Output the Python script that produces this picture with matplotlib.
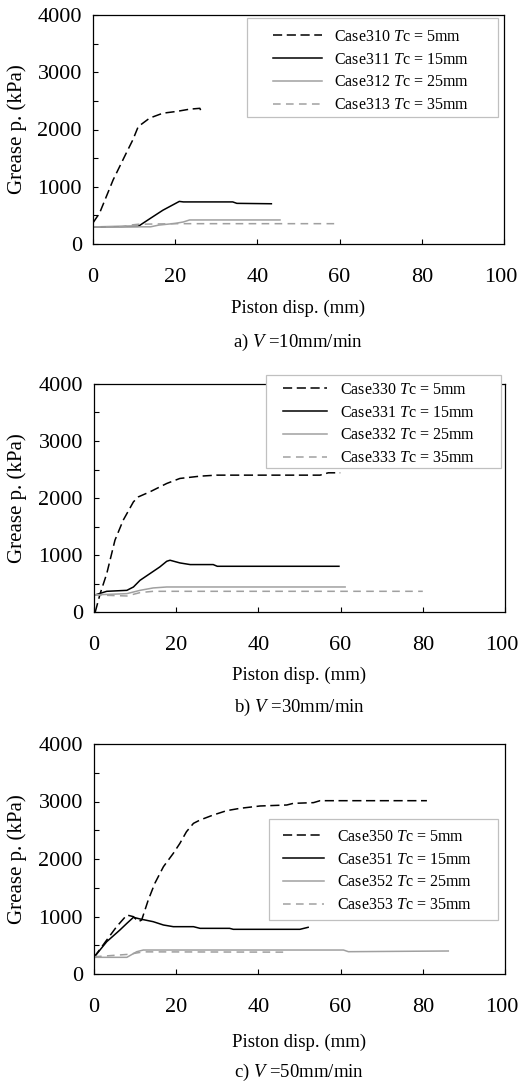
import matplotlib
matplotlib.use("Agg")
import matplotlib.pyplot as plt
from matplotlib.patches import Rectangle
from matplotlib.transforms import ScaledTranslation

plt.rcParams["font.family"] = "Liberation Serif"
plt.rcParams["mathtext.fontset"] = "custom"
plt.rcParams["mathtext.rm"] = "Liberation Serif"
plt.rcParams["mathtext.it"] = "Liberation Serif:italic"

# =========================
# DATA
# =========================

# a) V = 10mm/min
a_310_x = [0, 1.6, 4.9, 8.1, 9.7, 11, 13.8, 17, 20.3, 23.5, 26, 26.5]
a_310_y = [370, 540, 1120, 1590, 1820, 2050, 2200, 2285, 2315, 2355, 2370, 2285]
a_311_x = [0, 11, 14, 17, 21, 22, 34, 35, 43.4]
a_311_y = [300, 308, 450, 590, 744, 735, 735, 710, 703]
a_312_x = [0, 14, 16, 20, 22, 23.5, 45.5]
a_312_y = [300, 300, 330, 360, 385, 420, 420]
a_313_x = [0, 7, 9, 11, 20, 59.7]
a_313_y = [300, 300, 330, 345, 355, 355]

# b) V = 30mm/min
b_330_x = [0.3, 1.5, 3.1, 5.1, 7.1, 9.6, 10.8, 13.6, 17.7, 20.9, 25.8, 29.8, 42, 55, 57, 59.9]
b_330_y = [0, 322, 673, 1260, 1610, 1933, 2020, 2108, 2255, 2343, 2383, 2401, 2401, 2401, 2442, 2442]
b_331_x = [0, 3.1, 8, 9.6, 11.2, 13.6, 16, 17.7, 18.5, 20.9, 23.4, 29, 30, 59.6]
b_331_y = [293, 363, 380, 439, 556, 673, 790, 890, 908, 861, 832, 832, 802, 802]
b_332_x = [0, 8, 11.2, 14.4, 17.7, 61.1]
b_332_y = [300, 322, 380, 422, 439, 439]
b_333_x = [0, 8, 11.2, 14.4, 80]
b_333_y = [300, 281, 340, 363, 363]

# c) V = 50mm/min
c_350_x = [0, 3.1, 5.5, 8, 9.6, 10.8, 11.6, 13.2, 14.8, 16.9, 19.3, 20.9, 22.5, 24.2, 25.8,
           29, 32.3, 35.5, 40.4, 46.9, 48.5, 53.4, 55, 81]
c_350_y = [290, 591, 823, 1026, 997, 910, 939, 1287, 1577, 1867, 2099, 2272, 2475, 2620, 2678,
           2765, 2841, 2881, 2922, 2939, 2968, 2980, 3014, 3014]
c_351_x = [0, 3.1, 6.3, 8, 9.6, 11.2, 14.4, 16.9, 19.3, 24.2, 25.8, 33, 33.9, 50.1, 52.1]
c_351_y = [290, 562, 765, 881, 986, 957, 910, 852, 823, 823, 794, 794, 777, 777, 812]
c_352_x = [0, 8, 10.4, 12, 16, 60.7, 61.9, 86.2]
c_352_y = [290, 290, 388, 417, 417, 417, 388, 400]
c_353_x = [0, 8.4, 12, 47.3]
c_353_y = [300, 342, 385, 380]

labels_a = ["Case310 $T$c = 5mm", "Case311 $T$c = 15mm", "Case312 $T$c = 25mm", "Case313 $T$c = 35mm"]
labels_b = ["Case330 $T$c = 5mm", "Case331 $T$c = 15mm", "Case332 $T$c = 25mm", "Case333 $T$c = 35mm"]
labels_c = ["Case350 $T$c = 5mm", "Case351 $T$c = 15mm", "Case352 $T$c = 25mm", "Case353 $T$c = 35mm"]

captions = ["a) $V$ =10mm/min", "b) $V$ =30mm/min", "c) $V$ =50mm/min"]

GRAY = "#a0a0a0"
STYLES = [
    dict(color="black", lw=1.1, dashes=(6, 3)),
    dict(color="black", lw=1.1),
    dict(color=GRAY, lw=1.1),
    dict(color=GRAY, lw=1.1, dashes=(5, 3.5)),
]

W, H = 518, 1082
fig = plt.figure(figsize=(W / 100, H / 100), dpi=100)


def fx(px):
    return px / W


def fy(py):
    return 1 - py / H


def panel(box, series, labels, caption, leg_box, leg_anchor, hlen, xlab_y, cap_y):
    l, t, r, b = box
    ax = fig.add_axes([fx(l), fy(b), (r - l) / W, (b - t) / H])
    handles = []
    for (x, y), st in zip(series, STYLES):
        h, = ax.plot(x, y, **st)
        handles.append(h)

    ax.set_xlim(0, 100)
    ax.set_ylim(0, 4000)
    ax.set_xticks([0, 20, 40, 60, 80, 100])
    ax.set_yticks([0, 1000, 2000, 3000, 4000])
    ax.set_yticks([500, 1500, 2500, 3500], minor=True)
    ax.tick_params(which="both", direction="in", length=3.5, width=0.8,
                   top=False, right=False, labelsize=16)
    ax.tick_params(axis="x", pad=17)
    ax.tick_params(axis="y", pad=8)
    for s in ax.spines.values():
        s.set_linewidth(0.9)

    # keep the "100" label inside the picture
    last = ax.get_xticklabels()[-1]
    last.set_transform(last.get_transform() + ScaledTranslation(-3 / 100, 0, fig.dpi_scale_trans))

    # legend frame + legend
    ll, lt, lr, lb = leg_box
    fig.add_artist(Rectangle((fx(ll), fy(lb)), (lr - ll) / W, (lb - lt) / H,
                             transform=fig.transFigure, facecolor="white",
                             edgecolor="#c0c0c0", lw=0.9, zorder=3))
    fig.legend(handles, labels, loc="upper left",
               bbox_to_anchor=(fx(leg_anchor[0]), fy(leg_anchor[1])),
               bbox_transform=fig.transFigure, frameon=False, borderpad=0,
               borderaxespad=0, handlelength=hlen, handletextpad=0.8,
               labelspacing=0.42, fontsize=11.5).set_zorder(5)

    cx = fx((l + r) / 2)
    fig.text(cx, fy(xlab_y), "Piston disp. (mm)", ha="center", va="center", fontsize=13.5)
    fig.text(cx, fy(cap_y), caption, ha="center", va="center", fontsize=13.5)
    fig.text(fx(17), fy((t + b) / 2), "Grease p. (kPa)", rotation=90,
             ha="center", va="center", fontsize=15)
    return ax


panel((93, 15, 504, 244),
      [(a_310_x, a_310_y), (a_311_x, a_311_y), (a_312_x, a_312_y), (a_313_x, a_313_y)],
      labels_a, captions[0], (247, 18, 498, 117), (273, 29), 3.05, 308, 342)

panel((94, 384, 505, 612),
      [(b_330_x, b_330_y), (b_331_x, b_331_y), (b_332_x, b_332_y), (b_333_x, b_333_y)],
      labels_b, captions[1], (266, 375, 501, 468), (283, 382), 2.75, 675, 707)

panel((94, 744, 505, 974),
      [(c_350_x, c_350_y), (c_351_x, c_351_y), (c_352_x, c_352_y), (c_353_x, c_353_y)],
      labels_c, captions[2], (269, 819, 498, 920), (283, 829), 2.55, 1042, 1072)

fig.savefig("out.png", dpi=100)
